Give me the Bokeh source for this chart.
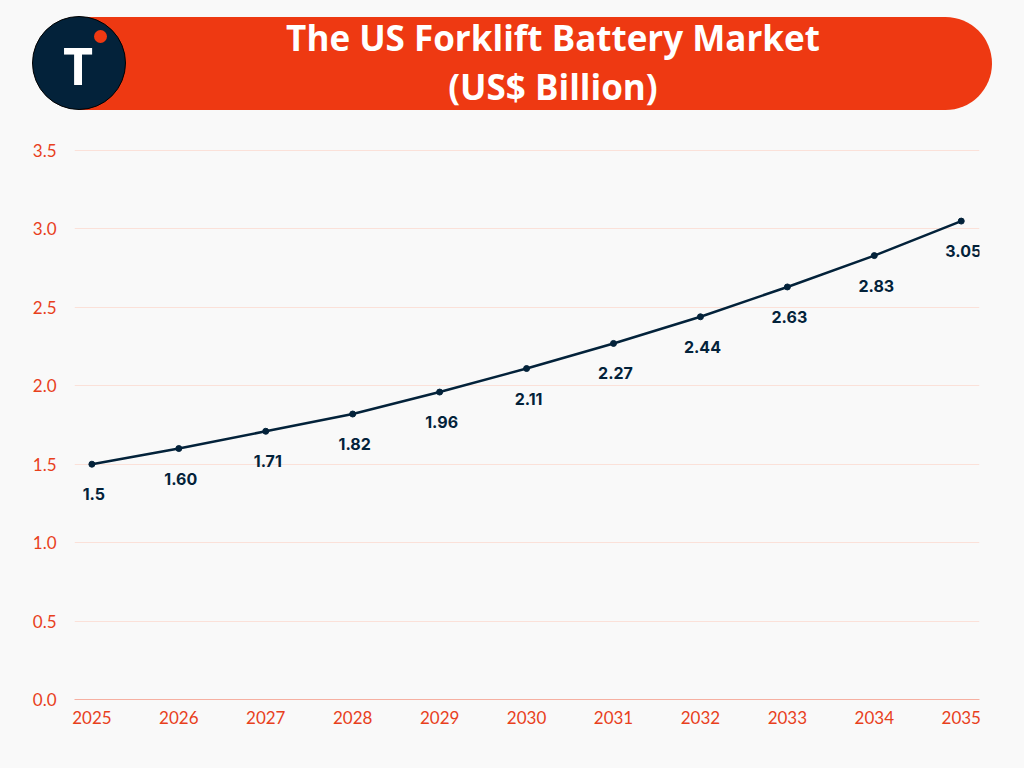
from bokeh.plotting import figure
from bokeh.models import Div, ColumnDataSource, FixedTicker, NumeralTickFormatter, GlobalInlineStyleSheet
from bokeh.layouts import column
from bokeh.core.properties import value
from bokeh.embed import file_html
from bokeh.resources import INLINE

# ---- data ----
years = [2025, 2026, 2027, 2028, 2029, 2030, 2031, 2032, 2033, 2034, 2035]
market_values = [1.5, 1.60, 1.71, 1.82, 1.96, 2.11, 2.27, 2.44, 2.63, 2.83, 3.05]
value_labels = ["1.5", "1.60", "1.71", "1.82", "1.96", "2.11", "2.27", "2.44", "2.63", "2.83", "3.05"]
y_ticks = [0.0, 0.5, 1.0, 1.5, 2.0, 2.5, 3.0, 3.5]
title_line1 = "The US Forklift Battery Market"
title_line2 = "(US$ Billion)"
logo_letter = "T"

BG = "#f9f9f9"
RED = "#ee3912"
NAVY = "#03223a"
TICK_RED = "#e8401c"

header_html = f"""
<div style="position:relative;width:1008px;height:110px;background:{BG};overflow:hidden;">
  <div style="position:absolute;left:75px;top:12px;width:912px;height:93px;background:{RED};border-radius:0 47px 47px 0;"></div>
  <div style="position:absolute;left:109px;top:10px;width:878px;height:93px;display:flex;flex-direction:column;justify-content:center;align-items:center;color:#ffffff;font-family:'Open Sans';font-weight:700;font-size:35px;line-height:49px;text-align:center;">
    <div>{title_line1}</div><div>{title_line2}</div>
  </div>
  <div style="position:absolute;left:27px;top:11px;width:94px;height:94px;box-sizing:border-box;border-radius:50%;background:{NAVY};border:1.5px solid #000000;display:flex;justify-content:center;align-items:center;color:#ffffff;font-family:'Open Sans';font-weight:700;font-size:52px;line-height:52px;">
    <span style="position:relative;top:2px;left:-1px;">{logo_letter}</span>
  </div>
  <div style="position:absolute;left:88.5px;top:24.5px;width:13px;height:13px;border-radius:50%;background:{RED};"></div>
</div>
"""

header = Div(text=header_html, width=1008, height=110)

source = ColumnDataSource(data=dict(x=years, y=market_values, label=value_labels))

p = figure(width=1008, height=640,
           x_range=(2024.80, 2035.21), y_range=(0, 3.6275),
           output_backend="svg", toolbar_location=None,
           min_border_left=74, min_border_right=29,
           min_border_top=10, min_border_bottom=61,
           background_fill_color=BG, border_fill_color=BG,
           outline_line_color=None)

p.line("x", "y", source=source, line_color=NAVY, line_width=2.5)
p.scatter("x", "y", source=source, size=6, fill_color=NAVY, line_color=NAVY)
p.text("x", "y", text="label", source=source, text_color=NAVY,
       text_font=value("Inter"), text_font_style="bold", text_font_size="16px",
       text_align="center", text_baseline="middle", x_offset=2, y_offset=30)

p.xaxis.ticker = FixedTicker(ticks=years)
p.yaxis.ticker = FixedTicker(ticks=y_ticks)
p.yaxis.formatter = NumeralTickFormatter(format="0.0")

for ax in (p.xaxis, p.yaxis):
    ax.major_tick_line_color = None
    ax.minor_tick_line_color = None
    ax.major_label_text_color = TICK_RED
    ax.major_label_text_font = "Lato"
    ax.major_label_text_font_size = "17px"

p.yaxis.axis_line_color = None
p.yaxis.major_label_standoff = 12
p.xaxis.axis_line_color = "#f6b0a2"
p.xaxis.axis_line_width = 1
p.xaxis.major_label_standoff = 5

p.xgrid.grid_line_color = None
p.ygrid.grid_line_color = "#fbe1d9"
p.ygrid.grid_line_width = 1

layout = column(header, p, spacing=0)
layout.stylesheets = [GlobalInlineStyleSheet(css=f"html, body {{ background: {BG}; }}")]

open("out.html", "w").write(file_html(layout, INLINE, title="The US Forklift Battery Market"))
